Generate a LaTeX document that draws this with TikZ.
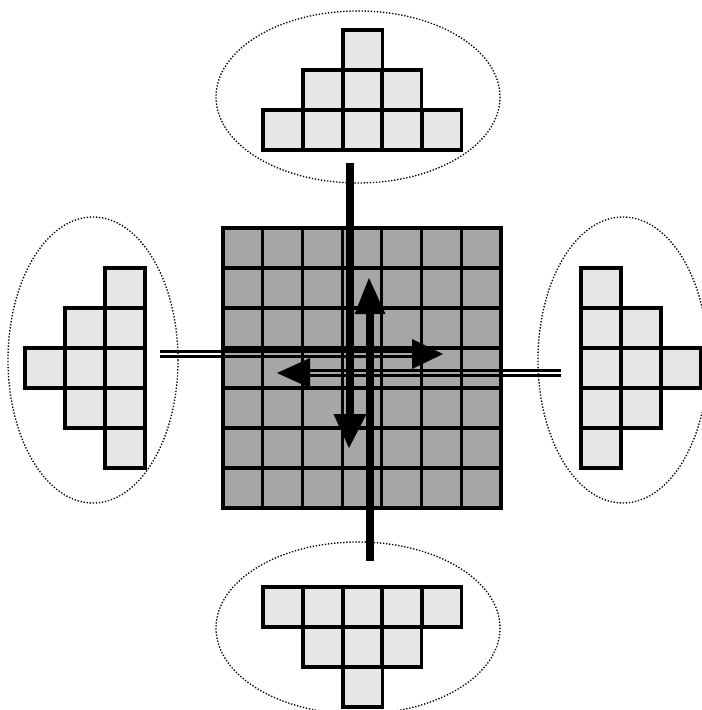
\documentclass[tikz,border=0pt]{standalone}
\definecolor{darkc}{RGB}{166,166,166}
\definecolor{lightc}{RGB}{230,230,230}
\begin{document}
\begin{tikzpicture}[x=0.75pt,y=-0.75pt,
  darkcell/.style={fill=darkc,draw=black,line width=2.3pt},
  lightcell/.style={fill=lightc,draw=black,line width=2.3pt},
  dotring/.style={draw=black,line width=1pt,dash pattern=on 1pt off 1.3pt},
  shaft/.style={draw=black,line width=6.6pt},
  thinline/.style={draw=black,line width=2.1pt},
  headfill/.style={fill=black}]
\useasboundingbox (0,0) rectangle (702,710);
\clip (0,0) rectangle (702,710);

% dotted ellipses
\path[dotring] (358,97) ellipse [x radius=142, y radius=86];
\path[dotring] (358,628) ellipse [x radius=142, y radius=86];
\path[dotring] (93,360) ellipse [x radius=85, y radius=143];
\path[dotring] (623,360) ellipse [x radius=85, y radius=143];

% central grid
\foreach \i in {0,...,6}
  \foreach \j in {0,...,6}
    \path[darkcell] ({223+\i*39.714},{228+\j*40}) rectangle ++(39.714,40);

% top shape
\foreach \x/\y in {343/30, 303/70, 343/70, 382/70, 263/110, 303/110, 343/110, 382/110, 422/110}
  \path[lightcell] (\x,\y) rectangle ++(39.8,40);
% bottom shape
\foreach \x/\y in {263/587, 303/587, 343/587, 382/587, 422/587, 303/627, 343/627, 382/627, 343/667}
  \path[lightcell] (\x,\y) rectangle ++(39.8,40);
% left shape
\foreach \x/\y in {105/268, 105/308, 105/348, 105/388, 105/428, 65/308, 65/348, 65/388, 25/348}
  \path[lightcell] (\x,\y) rectangle ++(40,40);
% right shape
\foreach \x/\y in {581/268, 581/308, 581/348, 581/388, 581/428, 621/308, 621/348, 621/388, 661/348}
  \path[lightcell] (\x,\y) rectangle ++(40,40);

% arrow coordinates
\coordinate (dS) at (350,163);
\coordinate (dB) at (350,414);
\coordinate (dT) at (349,448);
\coordinate (uS) at (370,561);
\coordinate (uB) at (370,314);
\coordinate (uT) at (369,278);
\coordinate (rS) at (160,354);
\coordinate (rB) at (412,354);
\coordinate (rT) at (443,354);
\coordinate (lS) at (561,373);
\coordinate (lB) at (310,373);
\coordinate (lT) at (277,373);

% right-pointing double arrow
\draw[thinline] ([yshift=1.75pt]rS) -- ([yshift=1.75pt]rB);
\draw[thinline] ([yshift=-1.75pt]rS) -- ([yshift=-1.75pt]rB);
\path[headfill] (rT) -- ([yshift=11.25pt]rB) -- ([yshift=-11.25pt]rB) -- cycle;

% left-pointing double arrow
\draw[thinline] ([yshift=1.6pt]lS) -- ([yshift=1.6pt]lB);
\draw[thinline] ([yshift=-1.6pt]lS) -- ([yshift=-1.6pt]lB);
\path[headfill] (lT) -- ([yshift=11.25pt]lB) -- ([yshift=-11.25pt]lB) -- cycle;

% downward thick arrow
\draw[shaft] (dS) -- (dB);
\path[headfill] (dT) -- ([xshift=-12.4pt]dB) -- ([xshift=12.4pt]dB) -- cycle;

% upward thick arrow
\draw[shaft] (uS) -- (uB);
\path[headfill] (uT) -- ([xshift=-11.6pt]uB) -- ([xshift=11.6pt]uB) -- cycle;
\end{tikzpicture}
\end{document}
